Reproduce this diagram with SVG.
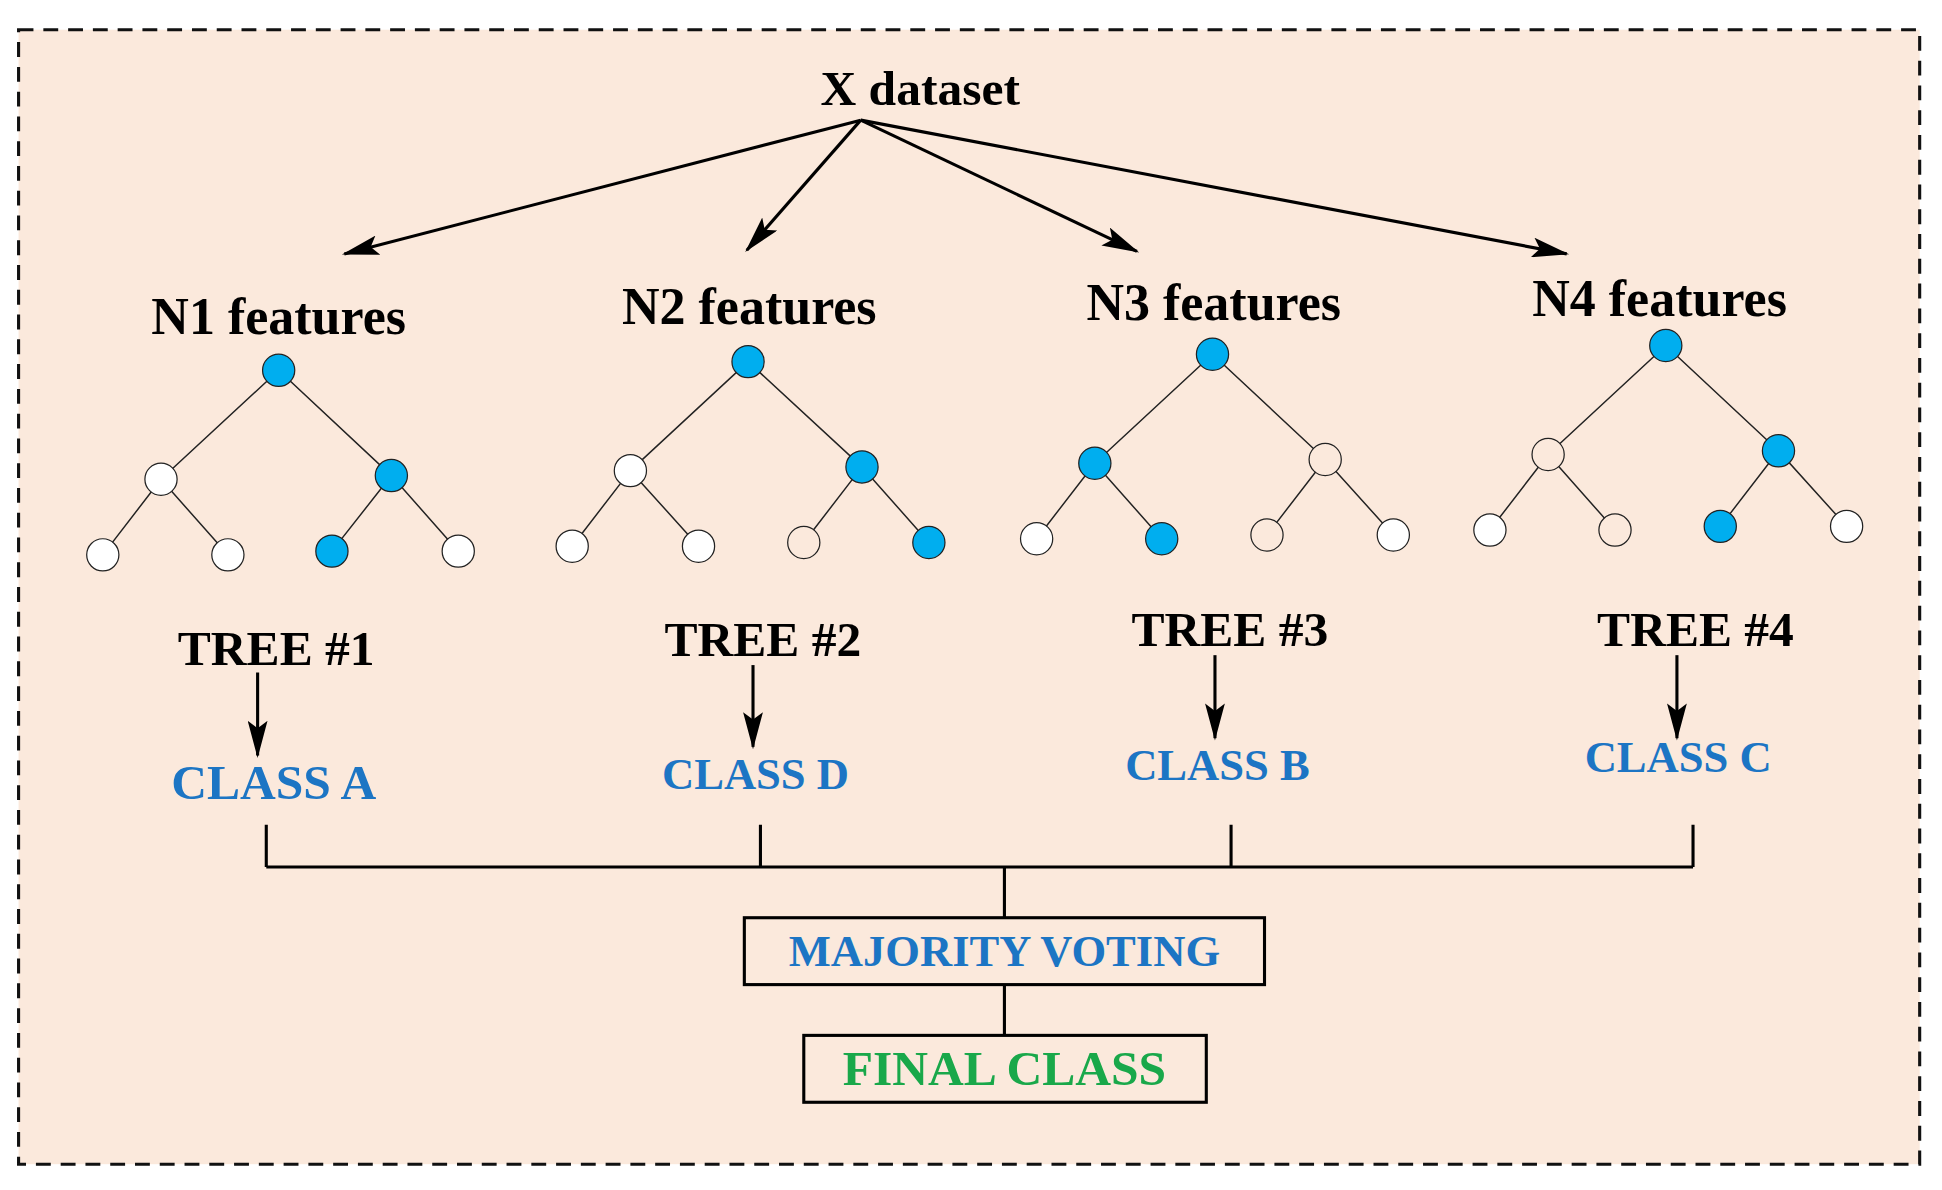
<svg xmlns="http://www.w3.org/2000/svg" width="1942" height="1190" viewBox="0 0 1942 1190">
<style>
.t{font-family:"Liberation Serif","Times New Roman",serif;font-weight:bold;text-anchor:middle}
.blk{fill:#000}
.blu{fill:#1C75C4}
.b{fill:#00AEEF;stroke:#222;stroke-width:1}
.w{fill:#fff;stroke:#222;stroke-width:1}
.e{stroke:#222;stroke-width:1.2;fill:none}
.c{stroke:#000;stroke-width:2.5;fill:none}
</style>
<defs>
<marker id="ah" viewBox="0 0 30 16" refX="28" refY="8" markerWidth="30" markerHeight="16" markerUnits="userSpaceOnUse" orient="auto">
<path d="M0,0 L30,8 L0,16 L6,8 Z" fill="#000"/>
</marker>
</defs>
<rect width="1942" height="1190" fill="#fff"/>
<g transform="scale(1.2385)">
<rect x="15" y="24" width="1535" height="916" fill="#FBE9DC" stroke="#111" stroke-width="2.5" stroke-dasharray="12,8"/>
<g id="xdataset"><text class="t blk" x="743" y="85" font-size="40">X dataset</text></g>
<g id="connectors">
<line class="c" x1="695" y1="97" x2="278" y2="205" marker-end="url(#ah)"/>
<line class="c" x1="695" y1="97" x2="603" y2="202" marker-end="url(#ah)"/>
<line class="c" x1="695" y1="97" x2="918" y2="203" marker-end="url(#ah)"/>
<line class="c" x1="695" y1="97" x2="1265" y2="205" marker-end="url(#ah)"/>
<line class="c" x1="208" y1="543" x2="208" y2="610" stroke-width="3" marker-end="url(#ah)"/>
<line class="c" x1="608" y1="537" x2="608" y2="603" stroke-width="3" marker-end="url(#ah)"/>
<line class="c" x1="981" y1="529" x2="981" y2="596" stroke-width="3" marker-end="url(#ah)"/>
<line class="c" x1="1354" y1="529" x2="1354" y2="596" stroke-width="3" marker-end="url(#ah)"/>
<path class="c" d="M215,666 V700 M614,666 V700 M994,666 V700 M1367,666 V700 M215,700 H1367 M811,700 V741 M811,795 V836"/>
</g>
<g id="tree1">
<text class="t blk" x="225" y="270" font-size="42">N1 features</text>
<path class="e" d="M225,299 L130,387 M225,299 L316,384 M130,387 L83,448 M130,387 L184,448 M316,384 L268,445 M316,384 L370,445"/>
<circle class="b" cx="225" cy="299" r="13"/><circle class="w" cx="130" cy="387" r="13"/><circle class="b" cx="316" cy="384" r="13"/>
<circle class="w" cx="83" cy="448" r="13"/><circle class="w" cx="184" cy="448" r="13"/><circle class="b" cx="268" cy="445" r="13"/><circle class="w" cx="370" cy="445" r="13"/>
<text class="t blk" x="223" y="537" font-size="40">TREE #1</text>
<text class="t blu" x="221" y="645" font-size="40">CLASS A</text>
</g>
<g id="tree2">
<text class="t blk" x="605" y="262" font-size="42">N2 features</text>
<path class="e" d="M604,292 L509,380 M604,292 L696,377 M509,380 L462,441 M509,380 L564,441 M696,377 L649,438 M696,377 L750,438"/>
<circle class="b" cx="604" cy="292" r="13"/><circle class="w" cx="509" cy="380" r="13"/><circle class="b" cx="696" cy="377" r="13"/>
<circle class="w" cx="462" cy="441" r="13"/><circle class="w" cx="564" cy="441" r="13"/><circle class="w" cx="649" cy="438" r="13" style="fill:#FBE9DC"/><circle class="b" cx="750" cy="438" r="13"/>
<text class="t blk" x="616" y="530" font-size="40">TREE #2</text>
<text class="t blu" x="610" y="637" font-size="36">CLASS D</text>
</g>
<g id="tree3">
<text class="t blk" x="980" y="258" font-size="42">N3 features</text>
<path class="e" d="M979,286 L884,374 M979,286 L1070,371 M884,374 L837,435 M884,374 L938,435 M1070,371 L1023,432 M1070,371 L1125,432"/>
<circle class="b" cx="979" cy="286" r="13"/><circle class="b" cx="884" cy="374" r="13"/><circle class="w" cx="1070" cy="371" r="13" style="fill:#FBE9DC"/>
<circle class="w" cx="837" cy="435" r="13"/><circle class="b" cx="938" cy="435" r="13"/><circle class="w" cx="1023" cy="432" r="13" style="fill:#FBE9DC"/><circle class="w" cx="1125" cy="432" r="13"/>
<text class="t blk" x="993" y="522" font-size="40">TREE #3</text>
<text class="t blu" x="983" y="630" font-size="36">CLASS B</text>
</g>
<g id="tree4">
<text class="t blk" x="1340" y="255" font-size="42">N4 features</text>
<path class="e" d="M1345,279 L1250,367 M1345,279 L1436,364 M1250,367 L1203,428 M1250,367 L1304,428 M1436,364 L1389,425 M1436,364 L1491,425"/>
<circle class="b" cx="1345" cy="279" r="13"/><circle class="w" cx="1250" cy="367" r="13" style="fill:#FBE9DC"/><circle class="b" cx="1436" cy="364" r="13"/>
<circle class="w" cx="1203" cy="428" r="13"/><circle class="w" cx="1304" cy="428" r="13" style="fill:#FBE9DC"/><circle class="b" cx="1389" cy="425" r="13"/><circle class="w" cx="1491" cy="425" r="13"/>
<text class="t blk" x="1369" y="522" font-size="40">TREE #4</text>
<text class="t blu" x="1355" y="623" font-size="36">CLASS C</text>
</g>
<g id="majority">
<rect x="601" y="741" width="420" height="54" fill="none" stroke="#000" stroke-width="2.5"/>
<text class="t blu" x="811" y="780" font-size="36">MAJORITY VOTING</text>
</g>
<g id="final">
<rect x="649" y="836" width="325" height="54" fill="none" stroke="#000" stroke-width="2.5"/>
<text class="t" x="811" y="876" font-size="40" fill="#19A84A">FINAL CLASS</text>
</g>
</g>
</svg>
